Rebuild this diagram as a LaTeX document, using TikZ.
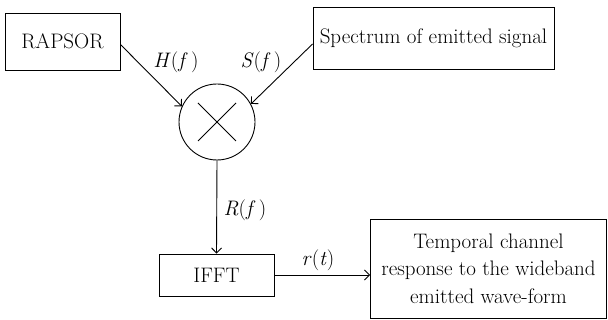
\documentclass[tikz,border=0pt]{standalone}
\usepackage{fontspec}
\usetikzlibrary{arrows.meta}
\begin{document}
\begin{tikzpicture}[x=1pt,y=-1pt,
  box/.style={draw,line width=0.9pt,inner sep=0pt,font=\fontsize{21}{27.5}\selectfont},
  lbl/.style={font=\fontsize{21}{27.5}\selectfont,inner sep=0pt},
  conn/.style={line width=0.9pt,-{Straight Barb[length=5pt,width=10pt,line width=0.9pt]}}]
\useasboundingbox (0,0) rectangle (608,320);
\node[box,minimum width=115pt,minimum height=57pt] (rap) at (62.5,41.5) {RAPSOR};
\node[box,minimum width=241pt,minimum height=62pt] (spec) at (433.5,38) {Spectrum of emitted signal};
\node[draw,circle,line width=0.9pt,minimum size=76pt,inner sep=0pt] (mul) at (217,122) {};
\draw[line width=0.9pt] (mul.center) ++(-19,-19) -- ++(38,38);
\draw[line width=0.9pt] (mul.center) ++(19,-19) -- ++(-38,38);
\node[box,minimum width=115pt,minimum height=42pt] (ifft) at (216.5,275) {IFFT};
\node[box,minimum width=236pt,minimum height=99pt,align=center] (out) at (488.5,268.5) {Temporal channel\\response to the wideband\\emitted wave-form};
\draw[conn] ([yshift=-3pt]rap.east) -- (mul.156);
\draw[conn] ([yshift=-6pt]spec.west) -- (mul.28);
\draw[conn] (mul.south) -- (ifft.north);
\draw[conn] (ifft.east) -- (ifft.east -| out.west);
\node[lbl] (hl) at (176,62) {\textit{H}(\textit{f}\,)};
\node[lbl] (sl) at (261,62) {\textit{S}(\textit{f}\,)};
\node[lbl] (rl) at (245,210) {\textit{R}(\textit{f}\,)};
\node[lbl] (tl) at (318,260) {\textit{r}(\textit{t})};
\end{tikzpicture}
\end{document}
